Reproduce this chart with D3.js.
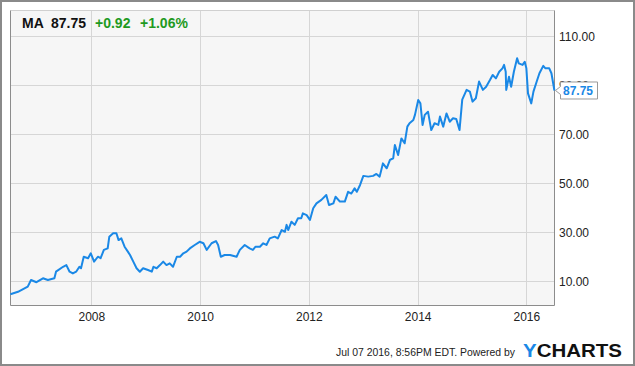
<!DOCTYPE html>
<head>
  <meta charset="utf-8">
  <script src="https://d3js.org/d3.v7.min.js"></script>
  <style>
    body { margin:0; background:white; }
    text { font-family: 'Liberation Sans', Arial, sans-serif; }
    .tick text { font-size: 12px; fill: #222; }
  </style>
</head>
<body>
  <script>
  // price readings (decimal year -> close)
  const years = [2006.51,2006.65,2006.83,2006.89,2006.99,2007.11,2007.20,2007.32,2007.35,2007.48,
    2007.54,2007.60,2007.66,2007.72,2007.78,2007.81,2007.86,2007.94,2007.99,2008.05,
    2008.12,2008.17,2008.23,2008.30,2008.33,2008.40,2008.46,2008.50,2008.55,2008.61,
    2008.67,2008.71,2008.77,2008.83,2008.89,2008.95,2009.04,2009.11,2009.14,2009.20,
    2009.26,2009.32,2009.38,2009.44,2009.50,2009.57,2009.63,2009.69,2009.75,2009.81,
    2009.90,2009.99,2010.06,2010.12,2010.21,2010.29,2010.33,2010.38,2010.45,2010.55,
    2010.67,2010.73,2010.82,2010.91,2010.97,2011.02,2011.10,2011.16,2011.22,2011.28,
    2011.37,2011.43,2011.50,2011.56,2011.59,2011.62,2011.68,2011.74,2011.80,2011.86,
    2011.89,2011.96,2012.02,2012.08,2012.14,2012.23,2012.32,2012.37,2012.45,2012.49,
    2012.57,2012.66,2012.72,2012.78,2012.84,2012.88,2012.94,2013.00,2013.09,2013.18,
    2013.24,2013.30,2013.36,2013.43,2013.49,2013.55,2013.58,2013.64,2013.70,2013.76,
    2013.81,2013.85,2013.92,2013.95,2014.01,2014.05,2014.09,2014.13,2014.19,2014.25,
    2014.31,2014.38,2014.41,2014.47,2014.53,2014.59,2014.65,2014.71,2014.77,2014.82,
    2014.90,2014.96,2015.01,2015.07,2015.13,2015.20,2015.26,2015.33,2015.38,2015.44,
    2015.50,2015.56,2015.59,2015.62,2015.63,2015.68,2015.72,2015.77,2015.83,2015.86,
    2015.93,2015.97,2016.00,2016.03,2016.09,2016.13,2016.19,2016.24,2016.31,2016.35,
    2016.42,2016.46,2016.515];
  const prices = [4.6,5.6,7.7,10.4,9.5,11.1,10.4,11.1,13.8,15.8,
    16.5,13.8,13.1,13.8,15.8,15.2,19.9,19.3,21.3,17.9,
    19.9,19.3,22.7,23.3,28.1,29.5,29.5,26.7,27.4,24.0,
    22.0,20.6,17.9,15.2,13.8,15.2,14.5,13.8,15.8,15.2,
    16.5,17.9,16.5,17.2,15.8,19.9,19.9,21.3,22.0,23.3,
    24.7,26.0,25.4,22.7,25.4,26.3,24.7,19.9,20.6,20.6,
    19.9,22.7,24.7,23.3,22.7,24.0,24.0,25.4,24.7,27.4,
    28.1,27.4,30.8,30.1,32.9,30.8,34.2,32.9,35.6,35.6,
    37.6,36.9,34.9,39.7,41.7,43.1,45.1,41.0,41.7,44.4,
    42.4,42.4,46.4,45.7,47.8,46.4,49.2,52.9,52.6,52.9,
    53.7,52.6,58.0,56.0,59.4,60.1,65.5,61.4,68.2,66.2,
    73.0,74.4,75.7,77.8,83.9,82.5,73.7,77.8,79.1,71.6,
    74.4,73.7,77.1,73.0,78.4,75.0,76.4,76.1,71.6,84.0,
    88.0,87.3,83.2,84.6,91.4,88.0,89.3,92.0,94.1,92.7,
    95.4,96.8,98.2,95.4,88.0,93.4,89.3,95.4,100.9,98.8,
    98.2,99.5,96.8,86.6,82.5,87.3,91.4,94.8,97.8,96.8,
    96.8,94.8,87.75];
  const yTicks = [10, 30, 50, 70, 90, 110];
  const ticker = 'MA', last = '87.75', change = '+0.92', changePct = '+1.06%';
  const stamp = 'Jul 07 2016, 8:56PM EDT.  Powered by';

  const W = 635, H = 366;
  const plot = {left: 10.5, right: 554.5, top: 10.5, bottom: 305.5};

  // decimal year to Date
  function toDate(y) {
    const yr = Math.floor(y);
    const a = new Date(yr, 0, 1), b = new Date(yr + 1, 0, 1);
    return new Date(+a + (y - yr) * (b - a));
  }
  const data = years.map((y, i) => ({date: toDate(y), v: prices[i]}));

  const x = d3.scaleTime()
    .domain([new Date(2006, 6, 7), new Date(2016, 6, 8)])
    .range([plot.left, plot.right]);
  const y = d3.scaleLinear()
    .domain([0, 120.4])
    .range([plot.bottom, plot.top]);

  const svg = d3.select('body').append('svg')
    .attr('width', W).attr('height', H);

  // outer frame
  svg.append('rect')
    .attr('x', 1).attr('y', 1).attr('width', W - 2).attr('height', H - 2)
    .style('fill', 'white').style('stroke', '#8a8a8a').style('stroke-width', 2);

  // plot background
  svg.append('rect')
    .attr('x', plot.left).attr('y', plot.top)
    .attr('width', plot.right - plot.left).attr('height', plot.bottom - plot.top)
    .style('fill', '#f6f6f6');

  // grid
  const xTicks = d3.timeYear.every(2).range(new Date(2007, 6, 1), new Date(2016, 6, 1));
  svg.append('g').selectAll('line').data(xTicks).enter().append('line')
    .attr('x1', d => Math.round(x(d)) + 0.5).attr('x2', d => Math.round(x(d)) + 0.5)
    .attr('y1', plot.top).attr('y2', plot.bottom)
    .style('stroke', '#d6d6d6');
  svg.append('g').selectAll('line').data(yTicks).enter().append('line')
    .attr('x1', plot.left).attr('x2', plot.right)
    .attr('y1', d => Math.round(y(d)) + 0.5).attr('y2', d => Math.round(y(d)) + 0.5)
    .style('stroke', '#d6d6d6');

  // plot border: light top, darker left / bottom / right
  svg.append('line')
    .attr('x1', plot.left).attr('x2', plot.right).attr('y1', plot.top).attr('y2', plot.top)
    .style('stroke', '#d0d0d0');
  svg.append('path')
    .attr('d', `M${plot.left},${plot.top}V${plot.bottom}H${plot.right}V${plot.top}`)
    .style('fill', 'none').style('stroke', '#8c8c8c');

  // axes
  const yAxis = svg.append('g')
    .attr('transform', `translate(${plot.right}, 0)`)
    .call(d3.axisRight(y).tickValues(yTicks).tickFormat(d3.format('.2f')).tickSize(0).tickPadding(4.5));
  yAxis.select('.domain').remove();
  yAxis.selectAll('text').attr('dy', '0.34em');

  const xAxis = svg.append('g')
    .attr('transform', `translate(0, ${plot.bottom})`)
    .call(d3.axisBottom(x).tickValues(xTicks).tickFormat(d3.timeFormat('%Y')).tickSize(0).tickPadding(7));
  xAxis.select('.domain').remove();

  // price line
  const line = d3.line().x(d => x(d.date)).y(d => y(d.v));
  svg.append('path')
    .datum(data)
    .attr('d', line)
    .style('fill', 'none')
    .style('stroke', '#1a88e6')
    .style('stroke-width', 2)
    .style('stroke-linejoin', 'round');

  // last price tag
  const ly = y(prices[prices.length - 1]);
  const tag = svg.append('g');
  tag.append('path')
    .attr('d', `M${plot.right + 1},${ly} L${plot.right + 6},${ly - 4} V${ly - 8.5} H${plot.right + 43} V${ly + 8.5} H${plot.right + 6} V${ly + 4} Z`)
    .style('fill', 'white').style('stroke', '#9a9a9a');
  tag.append('text')
    .attr('x', plot.right + 8.5).attr('y', ly + 4.5)
    .text(last)
    .style('font-size', '12px').style('font-weight', 'bold').style('fill', '#1a88e6');

  // header
  const head = svg.append('text').attr('x', 22).attr('y', 28)
    .style('font-size', '14px').style('font-weight', 'bold');
  head.append('tspan').text(ticker).style('fill', '#111');
  head.append('tspan').attr('x', 51).text(last).style('fill', '#111');
  head.append('tspan').attr('x', 95).text(change).style('fill', '#1f9a1f');
  head.append('tspan').attr('x', 140).text(changePct).style('fill', '#1f9a1f');

  // footer
  svg.append('text')
    .attr('x', 336).attr('y', 356)
    .attr('textLength', 179).attr('lengthAdjust', 'spacingAndGlyphs')
    .text(stamp)
    .style('font-size', '11px').style('fill', '#222');
  const logo = svg.append('text')
    .attr('x', 523).attr('y', 357)
    .attr('textLength', 99).attr('lengthAdjust', 'spacingAndGlyphs')
    .style('font-size', '19px').style('font-weight', 'bold');
  logo.append('tspan').text('Y').style('fill', '#1a88e6');
  logo.append('tspan').text('CHARTS').style('fill', '#111');
  </script>
</body>
